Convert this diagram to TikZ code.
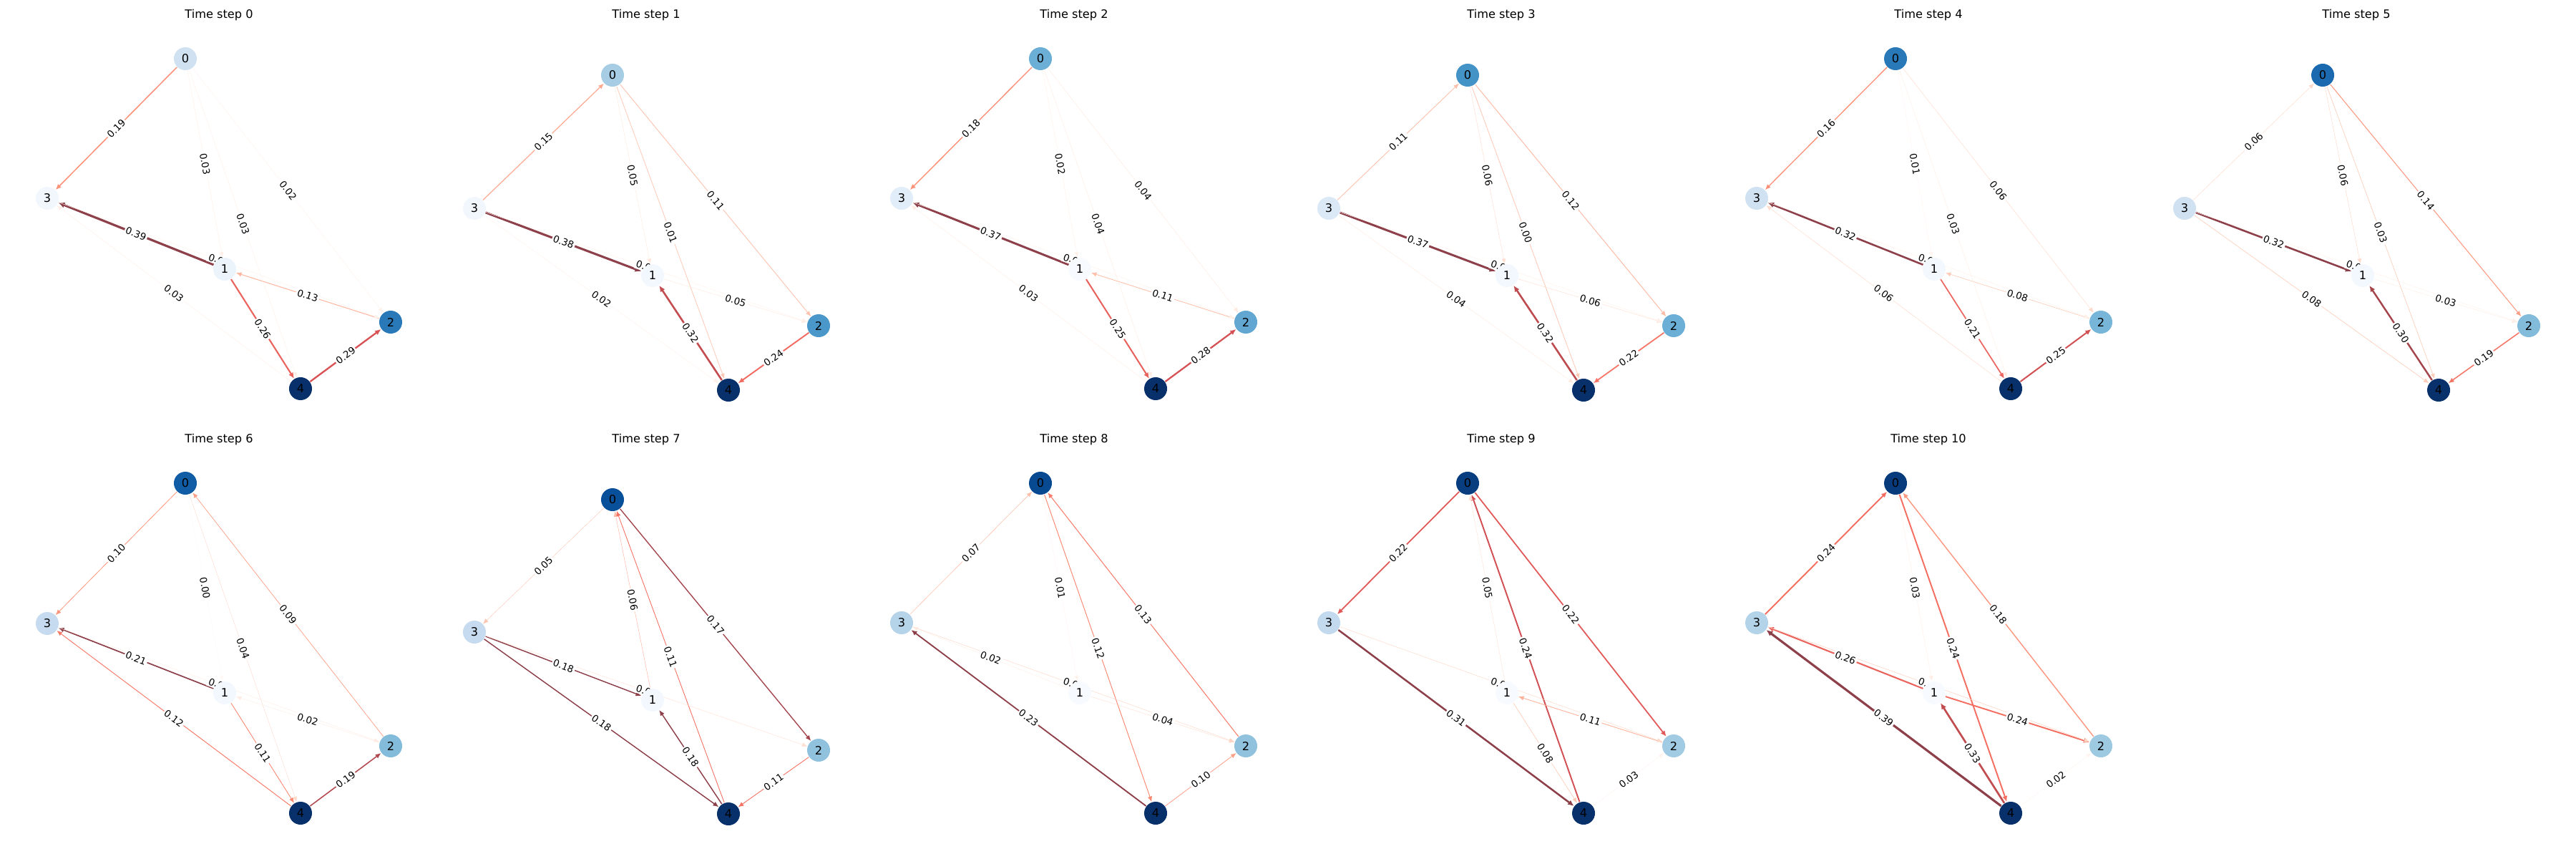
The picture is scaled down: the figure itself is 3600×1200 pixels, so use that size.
\documentclass[tikz,border=0pt]{standalone}
\usepackage{fontspec}
\setmainfont{DejaVu Sans}
\usetikzlibrary{arrows.meta}

\definecolor{rd0}{HTML}{FFF5F0}
\definecolor{rd1}{HTML}{FEE0D2}
\definecolor{rd2}{HTML}{FCBBA1}
\definecolor{rd3}{HTML}{FC9272}
\definecolor{rd4}{HTML}{FB6A4A}
\definecolor{rd5}{HTML}{EF3B2C}
\definecolor{rd6}{HTML}{CB181D}
\definecolor{rd7}{HTML}{A50F15}
\definecolor{rd8}{HTML}{67000D}
\definecolor{bl0}{HTML}{F7FBFF}
\definecolor{bl1}{HTML}{DEEBF7}
\definecolor{bl2}{HTML}{C6DBEF}
\definecolor{bl3}{HTML}{9ECAE1}
\definecolor{bl4}{HTML}{6BAED6}
\definecolor{bl5}{HTML}{4292C6}
\definecolor{bl6}{HTML}{2171B5}
\definecolor{bl7}{HTML}{08519C}
\definecolor{bl8}{HTML}{08306B}

\pgfdeclarelayer{edges}
\pgfdeclarelayer{labels}
\pgfsetlayers{edges,labels,main}

\newcommand\mapcolor[3]{%
  \pgfmathsetmacro\mapT{min(1,max(0,#3))*8}%
  \pgfmathtruncatemacro\mapK{min(7,floor(\mapT))}%
  \pgfmathtruncatemacro\mapKK{\mapK+1}%
  \pgfmathsetmacro\mapP{(\mapT-\mapK)*100}%
  \colorlet{#1}{#2\mapKK!\mapP!#2\mapK}}

\begin{document}
\begin{tikzpicture}[x=0.01cm, y=-0.01cm,
    ttl/.style={font=\fontsize{4.6}{5.5}\selectfont},
    gnode/.style={circle, inner sep=0pt, minimum size=0.32cm, font=\fontsize{4.6}{5.5}\selectfont,
        /utils/exec={\mapcolor{nc}{bl}{#1}}, fill=nc},
    link/.style 2 args={/utils/exec={\mapcolor{ecraw}{rd}{#1/#2}\colorlet{ec}{ecraw!75!white}},
        draw=ec, line width={max(0.12,#1*2.3)*1pt}, -{Latex[length=2pt 0.6, width=1.6pt 0.8]}},
    elab/.style={sloped, fill=white, inner sep=0.5pt, font=\fontsize{3.8}{4.5}\selectfont}
]
    \useasboundingbox (0,0) rectangle (3600,1200);

    % time step 0
    \begin{scope}[shift={(0,0)}]
    \node[ttl] (ttl0) at (306,21) {Time step 0};
    \node[gnode=.20] (s0-0) at (259,82) {0};
    \node[gnode=.06] (s0-1) at (314,376) {1};
    \node[gnode=.72] (s0-2) at (546,450) {2};
    \node[gnode=.03] (s0-3) at (66,277) {3};
    \node[gnode=1] (s0-4) at (420,543) {4};
    \foreach \src/\dst/\w/\lab in {0/3/.19/0.19, 1/3/.39/0.39, 1/4/.26/0.26, 4/2/.29/0.29, 2/1/.13/0.13,
        0/1/.03/0.03, 0/4/.03/0.03, 0/2/.02/0.02, 4/3/.03/0.03, 3/2/.02/{0.0\phantom{0}}}{
      \begin{pgfonlayer}{edges}\draw[link={\w}{.39}] (s0-\src) -- (s0-\dst);\end{pgfonlayer}
      \begin{pgfonlayer}{labels}\path (s0-\src) -- node[elab] {\lab} (s0-\dst);\end{pgfonlayer}
    }
    \end{scope}

    % time step 1
    \begin{scope}[shift={(600,0)}]
    \node[ttl] (ttl1) at (303,21) {Time step 1};
    \node[gnode=.35] (s1-0) at (256,105) {0};
    \node[gnode=.02] (s1-1) at (312,385) {1};
    \node[gnode=.60] (s1-2) at (544,455) {2};
    \node[gnode=.03] (s1-3) at (63,291) {3};
    \node[gnode=1] (s1-4) at (418,545) {4};
    \foreach \src/\dst/\w/\lab in {3/0/.15/0.15, 3/1/.38/0.38, 4/1/.32/0.32, 2/4/.24/0.24, 0/2/.11/0.11,
        0/4/.10/0.01, 0/1/.05/0.05, 1/2/.05/0.05, 3/4/.02/0.02, 3/2/.02/{0.0\phantom{0}}}{
      \begin{pgfonlayer}{edges}\draw[link={\w}{.38}] (s1-\src) -- (s1-\dst);\end{pgfonlayer}
      \begin{pgfonlayer}{labels}\path (s1-\src) -- node[elab] {\lab} (s1-\dst);\end{pgfonlayer}
    }
    \end{scope}

    % time step 2
    \begin{scope}[shift={(1200,0)}]
    \node[ttl] (ttl2) at (301,21) {Time step 2};
    \node[gnode=.50] (s2-0) at (254,82) {0};
    \node[gnode=0] (s2-1) at (309,376) {1};
    \node[gnode=.53] (s2-2) at (541,450) {2};
    \node[gnode=.11] (s2-3) at (60,277) {3};
    \node[gnode=1] (s2-4) at (415,543) {4};
    \foreach \src/\dst/\w/\lab in {0/3/.18/0.18, 1/3/.37/0.37, 1/4/.25/0.25, 4/2/.28/0.28, 2/1/.11/0.11,
        0/1/.02/0.02, 0/4/.04/0.04, 0/2/.04/0.04, 4/3/.03/0.03, 3/2/.02/{0.0\phantom{0}}}{
      \begin{pgfonlayer}{edges}\draw[link={\w}{.37}] (s2-\src) -- (s2-\dst);\end{pgfonlayer}
      \begin{pgfonlayer}{labels}\path (s2-\src) -- node[elab] {\lab} (s2-\dst);\end{pgfonlayer}
    }
    \end{scope}

    % time step 3
    \begin{scope}[shift={(1800,0)}]
    \node[ttl] (ttl3) at (298,21) {Time step 3};
    \node[gnode=.62] (s3-0) at (251,105) {0};
    \node[gnode=.02] (s3-1) at (306,385) {1};
    \node[gnode=.50] (s3-2) at (539,455) {2};
    \node[gnode=.14] (s3-3) at (57,291) {3};
    \node[gnode=1] (s3-4) at (413,545) {4};
    \foreach \src/\dst/\w/\lab in {3/0/.11/0.11, 3/1/.37/0.37, 4/1/.32/0.32, 2/4/.22/0.22, 0/2/.12/0.12,
        0/1/.06/0.06, 0/4/.10/0.00, 1/2/.06/0.06, 3/4/.04/0.04, 3/2/.02/{0.0\phantom{0}}}{
      \begin{pgfonlayer}{edges}\draw[link={\w}{.37}] (s3-\src) -- (s3-\dst);\end{pgfonlayer}
      \begin{pgfonlayer}{labels}\path (s3-\src) -- node[elab] {\lab} (s3-\dst);\end{pgfonlayer}
    }
    \end{scope}

    % time step 4
    \begin{scope}[shift={(2400,0)}]
    \node[ttl] (ttl4) at (295,21) {Time step 4};
    \node[gnode=.72] (s4-0) at (249,82) {0};
    \node[gnode=.02] (s4-1) at (303,376) {1};
    \node[gnode=.47] (s4-2) at (536,450) {2};
    \node[gnode=.20] (s4-3) at (55,277) {3};
    \node[gnode=1] (s4-4) at (410,543) {4};
    \foreach \src/\dst/\w/\lab in {0/3/.16/0.16, 1/3/.32/0.32, 1/4/.21/0.21, 4/2/.25/0.25, 2/1/.08/0.08,
        0/1/.01/0.01, 0/4/.03/0.03, 0/2/.06/0.06, 4/3/.06/0.06, 3/2/.02/{0.0\phantom{0}}}{
      \begin{pgfonlayer}{edges}\draw[link={\w}{.32}] (s4-\src) -- (s4-\dst);\end{pgfonlayer}
      \begin{pgfonlayer}{labels}\path (s4-\src) -- node[elab] {\lab} (s4-\dst);\end{pgfonlayer}
    }
    \end{scope}

    % time step 5
    \begin{scope}[shift={(3000,0)}]
    \node[ttl] (ttl5) at (293,21) {Time step 5};
    \node[gnode=.78] (s5-0) at (246,105) {0};
    \node[gnode=.02] (s5-1) at (302,385) {1};
    \node[gnode=.44] (s5-2) at (534,455) {2};
    \node[gnode=.20] (s5-3) at (53,291) {3};
    \node[gnode=1] (s5-4) at (408,545) {4};
    \foreach \src/\dst/\w/\lab in {3/0/.06/0.06, 3/1/.32/0.32, 4/1/.30/0.30, 2/4/.19/0.19, 0/2/.14/0.14,
        0/1/.06/0.06, 0/4/.08/0.03, 1/2/.03/0.03, 3/4/.08/0.08, 3/2/.02/{0.0\phantom{0}}}{
      \begin{pgfonlayer}{edges}\draw[link={\w}{.32}] (s5-\src) -- (s5-\dst);\end{pgfonlayer}
      \begin{pgfonlayer}{labels}\path (s5-\src) -- node[elab] {\lab} (s5-\dst);\end{pgfonlayer}
    }
    \end{scope}

    % time step 6
    \begin{scope}[shift={(0,600)}]
    \node[ttl] (ttl6) at (306,14) {Time step 6};
    \node[gnode=.83] (s6-0) at (259,75) {0};
    \node[gnode=.02] (s6-1) at (314,368) {1};
    \node[gnode=.44] (s6-2) at (546,442) {2};
    \node[gnode=.25] (s6-3) at (66,271) {3};
    \node[gnode=1] (s6-4) at (420,536) {4};
    \foreach \src/\dst/\w/\lab in {0/3/.10/0.10, 1/3/.21/0.21, 4/3/.12/0.12, 1/4/.11/0.11, 4/2/.19/0.19,
        2/0/.09/0.09, 0/1/.00/0.00, 0/4/.04/0.04, 2/1/.02/0.02, 3/2/.02/{0.0\phantom{0}}}{
      \begin{pgfonlayer}{edges}\draw[link={\w}{.21}] (s6-\src) -- (s6-\dst);\end{pgfonlayer}
      \begin{pgfonlayer}{labels}\path (s6-\src) -- node[elab] {\lab} (s6-\dst);\end{pgfonlayer}
    }
    \end{scope}

    % time step 7
    \begin{scope}[shift={(600,600)}]
    \node[ttl] (ttl7) at (303,14) {Time step 7};
    \node[gnode=.88] (s7-0) at (256,98) {0};
    \node[gnode=.02] (s7-1) at (312,378) {1};
    \node[gnode=.41] (s7-2) at (544,448) {2};
    \node[gnode=.25] (s7-3) at (63,283) {3};
    \node[gnode=1] (s7-4) at (418,537) {4};
    \foreach \src/\dst/\w/\lab in {0/3/.05/0.05, 3/1/.18/0.18, 3/4/.18/0.18, 4/1/.18/0.18, 0/2/.17/0.17,
        2/4/.11/0.11, 1/0/.06/0.06, 4/0/.11/0.11, 3/2/.03/{0.0\phantom{0}}}{
      \begin{pgfonlayer}{edges}\draw[link={\w}{.18}] (s7-\src) -- (s7-\dst);\end{pgfonlayer}
      \begin{pgfonlayer}{labels}\path (s7-\src) -- node[elab] {\lab} (s7-\dst);\end{pgfonlayer}
    }
    \end{scope}

    % time step 8
    \begin{scope}[shift={(1200,600)}]
    \node[ttl] (ttl8) at (301,14) {Time step 8};
    \node[gnode=.90] (s8-0) at (254,75) {0};
    \node[gnode=0] (s8-1) at (309,368) {1};
    \node[gnode=.41] (s8-2) at (541,442) {2};
    \node[gnode=.30] (s8-3) at (60,270) {3};
    \node[gnode=1] (s8-4) at (415,536) {4};
    \foreach \src/\dst/\w/\lab in {3/0/.07/0.07, 1/3/.02/0.02, 4/3/.23/0.23, 0/4/.12/0.12, 2/0/.13/0.13,
        4/2/.10/0.10, 0/1/.01/0.01, 1/2/.04/0.04, 3/2/.05/{0.0\phantom{0}}}{
      \begin{pgfonlayer}{edges}\draw[link={\w}{.23}] (s8-\src) -- (s8-\dst);\end{pgfonlayer}
      \begin{pgfonlayer}{labels}\path (s8-\src) -- node[elab] {\lab} (s8-\dst);\end{pgfonlayer}
    }
    \end{scope}

    % time step 9
    \begin{scope}[shift={(1800,600)}]
    \node[ttl] (ttl9) at (298,14) {Time step 9};
    \node[gnode=.95] (s9-0) at (251,75) {0};
    \node[gnode=0] (s9-1) at (306,368) {1};
    \node[gnode=.37] (s9-2) at (539,442) {2};
    \node[gnode=.26] (s9-3) at (57,270) {3};
    \node[gnode=1] (s9-4) at (413,536) {4};
    \foreach \src/\dst/\w/\lab in {0/3/.22/0.22, 0/2/.22/0.22, 4/0/.24/0.24, 3/4/.31/0.31, 1/0/.05/0.05,
        1/4/.08/0.08, 2/1/.11/0.11, 3/2/.06/{0.0\phantom{0}}, 4/2/.01/0.03}{
      \begin{pgfonlayer}{edges}\draw[link={\w}{.31}] (s9-\src) -- (s9-\dst);\end{pgfonlayer}
      \begin{pgfonlayer}{labels}\path (s9-\src) -- node[elab] {\lab} (s9-\dst);\end{pgfonlayer}
    }
    \end{scope}

    % time step 10
    \begin{scope}[shift={(2400,600)}]
    \node[ttl] (ttl10) at (295,14) {Time step 10};
    \node[gnode=.96] (s10-0) at (249,75) {0};
    \node[gnode=0] (s10-1) at (303,368) {1};
    \node[gnode=.375] (s10-2) at (536,442) {2};
    \node[gnode=.31] (s10-3) at (55,270) {3};
    \node[gnode=1] (s10-4) at (410,536) {4};
    \foreach \src/\dst/\w/\lab in {3/0/.24/0.24, 0/4/.24/0.24, 2/0/.18/0.18, 4/3/.39/0.39, 4/1/.33/0.33,
        1/3/.26/0.26, 1/2/.24/0.24, 3/2/.08/{0.\phantom{00}}, 0/1/.03/0.03, 4/2/.01/0.02}{
      \begin{pgfonlayer}{edges}\draw[link={\w}{.39}] (s10-\src) -- (s10-\dst);\end{pgfonlayer}
      \begin{pgfonlayer}{labels}\path (s10-\src) -- node[elab] {\lab} (s10-\dst);\end{pgfonlayer}
    }
    \end{scope}
\end{tikzpicture}
\end{document}
